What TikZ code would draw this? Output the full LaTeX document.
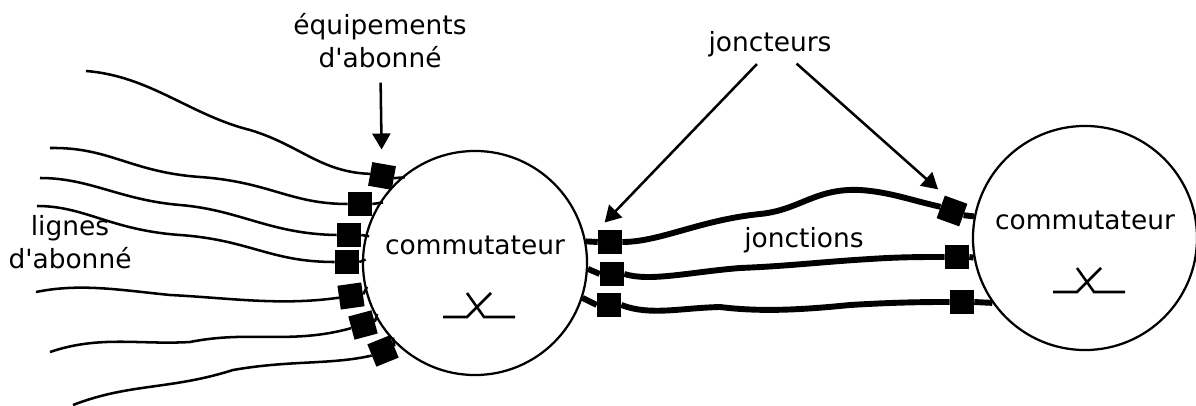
\documentclass[tikz,border=0pt]{standalone}
\usepackage{fontspec}
\setmainfont{DejaVu Sans}[Ligatures=TeXOff]
\usepackage{tikz}
\usetikzlibrary{arrows.meta}
\definecolor{wireblack}{RGB}{0, 0, 0}
\definecolor{inkblack}{RGB}{0, 0, 0}

\begin{document}
\begin{tikzpicture}[
        x=0.025cm, y=-0.025cm,
        switch/.style={circle, draw=wireblack, line width=1.6pt, minimum size=5.6cm, inner sep=0pt},
        equip/.style={rectangle, fill=wireblack, minimum size=0.6cm, inner sep=0pt},
        word/.style={font=\fontsize{18.8}{23.5}\selectfont, text=inkblack, inner sep=0pt, align=center},
        subline/.style={draw=wireblack, line width=1.8pt},
        trunk/.style={draw=wireblack, line width=4.2pt},
        stub/.style={shorten >=-0.1cm},
        pointer/.style={-{Triangle[length=0.4cm, width=0.45cm]}, draw=wireblack, line width=1.8pt},
        swsymbol/.style={draw=wireblack, line width=1.8pt}
    ]
    \useasboundingbox (0,0) rectangle (1196,406);

    % Switching centres
    \node[switch] (sw1) at (475,263) {};
    \node[switch] (sw2) at (1085,238) {};
    \node[word, anchor=base] (sw1txt) at ([yshift=0.2cm]sw1.center) {commutateur};
    \node[word, anchor=base] (sw2txt) at ([yshift=0.2cm]sw2.center) {commutateur};

    % Switch symbol under each label
    \foreach \sw in {sw1, sw2} {
        \draw[swsymbol] (\sw.center) ++(-32,54) -- ++(24,0) -- ++(24,-24);
        \draw[swsymbol] (\sw.center) ++(-8,30) -- ++(17,24) -- ++(31,0);
    }

    % Subscriber equipment
    \node[equip, rotate=-10] (e1) at (382,176) {};
    \node[equip] (e2) at (360,204) {};
    \node[equip] (e3) at (349,235) {};
    \node[equip] (e4) at (347,262) {};
    \node[equip, rotate=8] (e5) at (351,296) {};
    \node[equip, rotate=15] (e6) at (363,325) {};
    \node[equip, rotate=22] (e7) at (383,351) {};

    \draw[subline, stub] (e1.east) -- (sw1.131);
    \draw[subline, stub] (e2.east) -- (sw1.148);
    \draw[subline, stub] (e3.east) -- (sw1.166);
    \draw[subline, stub] (e4.east) -- (sw1.179);
    \draw[subline, stub] (e5.east) -- (sw1.194);
    \draw[subline, stub] (e6.east) -- (sw1.209);
    \draw[subline, stub] (e7.east) -- (sw1.224);

    % Subscriber lines
    \coordinate (l1) at (86,71);
    \coordinate (l2) at (50,148);
    \coordinate (l3) at (40,178);
    \coordinate (l4) at (37,206);
    \coordinate (l5) at (36,292);
    \coordinate (l6) at (50,352);
    \coordinate (l7) at (73,405);

    \draw[subline] (l1) .. controls (150,76) and (190,115) .. (250,130) .. controls (300,145) and (320,172) .. (e1.west);
    \draw[subline] (l2) .. controls (110,147) and (130,172) .. (200,177) .. controls (270,182) and (290,204) .. (e2.west);
    \draw[subline] (l3) .. controls (90,178) and (120,200) .. (180,205) .. controls (240,210) and (270,234) .. (e3.west);
    \draw[subline] (l4) .. controls (85,206) and (110,230) .. (180,235) .. controls (250,240) and (270,262) .. (e4.west);
    \draw[subline] (l5) .. controls (80,283) and (120,290) .. (170,295) .. controls (230,298) and (280,306) .. (e5.west);
    \draw[subline] (l6) .. controls (100,335) and (140,345) .. (190,342) .. controls (250,330) and (290,345) .. (e6.west);
    \draw[subline] (l7) .. controls (130,383) and (170,390) .. (233,370) .. controls (290,360) and (330,365) .. (e7.west);

    % Trunk circuits
    \node[equip] (t1) at (610,242) {};
    \node[equip] (t2) at (612,274) {};
    \node[equip] (t3) at (609,305) {};
    \node[equip, rotate=-20] (r1) at (952,211) {};
    \node[equip] (r2) at (957,257) {};
    \node[equip] (r3) at (962,302) {};

    \draw[trunk] (sw1.11) -- (t1.west);
    \draw[trunk] (sw1.357) -- (t2.west);
    \draw[trunk] (sw1.342) -- (t3.west);
    \draw[trunk] (r1.east) -- (sw2.169);
    \draw[trunk] (r2.east) -- (sw2.190);
    \draw[trunk] (r3.east) -- (sw2.215);

    % Junctions between the two switches
    \draw[trunk] (t1.east) .. controls (660,242) and (700,220) .. (760,214) .. controls (800,210) and (815,188) .. (860,190) .. controls (890,192) and (910,200) .. (r1.west);
    \draw[trunk] (t2.east) .. controls (650,282) and (690,272) .. (740,268) .. controls (790,266) and (820,262) .. (870,259) .. controls (900,257) and (920,257) .. (r2.west);
    \draw[trunk] (t3.east) .. controls (650,316) and (680,308) .. (720,307) .. controls (760,312) and (800,310) .. (850,305) .. controls (900,302) and (930,302) .. (r3.west);

    % Labels
    \node[word, anchor=base] (eqtxt) at (380,68) {équipements\\d'abonné};
    \node[word, anchor=base] (lgtxt) at (70,269) {lignes\\d'abonné};
    \node[word, anchor=base] (jrtxt) at (770,52) {joncteurs};
    \node[word, anchor=base] (jntxt) at (804,248) {jonctions};

    % Pointers
    \draw[pointer, shorten <=0.35cm, shorten >=0.35cm] (eqtxt) -- (e1);
    \draw[pointer, shorten <=0.22cm, shorten >=0.25cm] ([xshift=-0.175cm]jrtxt.south) -- (t1.north west);
    \draw[pointer, shorten <=0.22cm, shorten >=0.22cm] ([xshift=0.5cm]jrtxt.south) -- (r1.north west);

\end{tikzpicture}
\end{document}
